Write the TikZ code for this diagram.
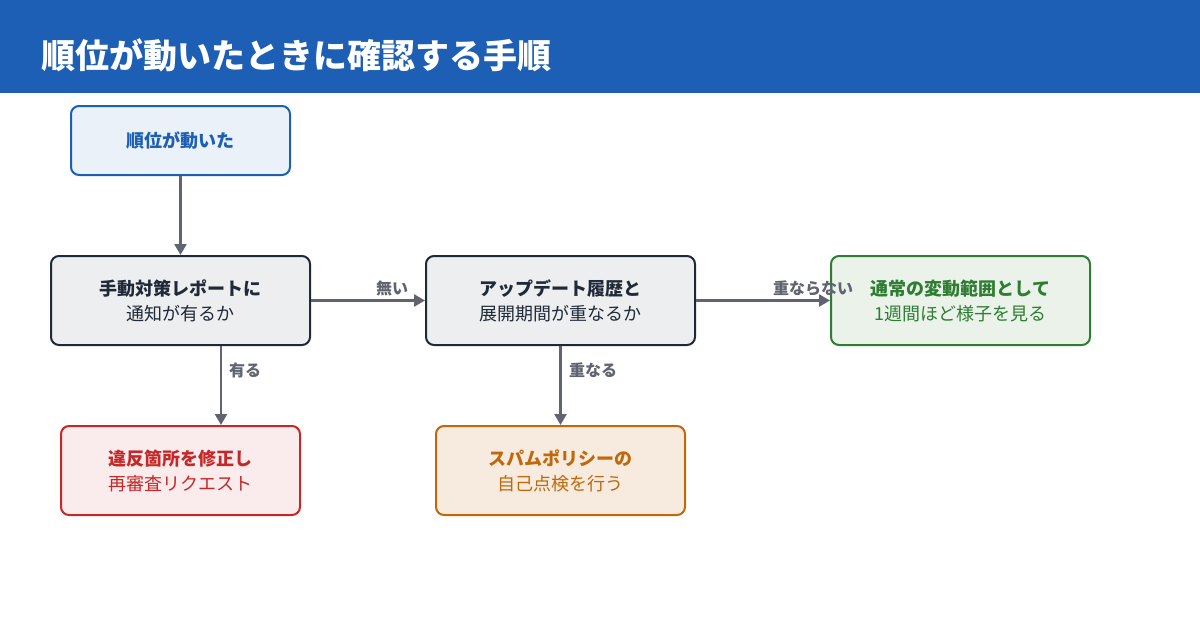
\documentclass[tikz,border=0pt]{standalone}
\usepackage{fontspec}
\setmainfont{Noto Sans CJK JP}
\usetikzlibrary{arrows.meta}
\definecolor{hdr}{HTML}{1C5FB4}
\definecolor{arr}{HTML}{5F6470}
\definecolor{dk}{HTML}{1F2937}
\definecolor{gn}{HTML}{2E7D32}
\definecolor{rd}{HTML}{C62828}
\definecolor{og}{HTML}{C0680A}
\begin{document}
\begin{tikzpicture}[x=1pt,y=-1pt,
  box/.style={rounded corners=8pt,line width=2pt,align=center,font=\fontsize{18}{25}\selectfont},
  con/.style={draw=arr,line width=2.5pt,-{Triangle[length=11pt,width=12pt]}},
  lab/.style={text=arr,font=\fontsize{16}{18}\selectfont\bfseries}]
\useasboundingbox (0,0) rectangle (1200,630);
\fill[hdr] (0,0) rectangle (1200,93);
\node[anchor=west,text=white,font=\fontsize{34}{40}\selectfont\bfseries] (title) at (38,55) {順位が動いたときに確認する手順};
\node[box,draw=hdr,fill=hdr!9,text=hdr,minimum width=219pt,minimum height=69pt] (a) at (180.5,140.5) {\bfseries 順位が動いた};
\node[box,draw=dk,fill=dk!8,text=dk,minimum width=259pt,minimum height=89pt] (b) at (180.5,300.5) {\bfseries 手動対策レポートに\\通知が有るか};
\node[box,draw=dk,fill=dk!8,text=dk,minimum width=269pt,minimum height=89pt] (c) at (560.5,300.5) {\bfseries アップデート履歴と\\展開期間が重なるか};
\node[box,draw=gn,fill=gn!10,text=gn,minimum width=259pt,minimum height=89pt] (d) at (960.5,300.5) {\bfseries 通常の変動範囲として\\1週間ほど様子を見る};
\node[box,draw=rd,fill=rd!9,text=rd,minimum width=239pt,minimum height=89pt] (e) at (180.5,470.5) {\bfseries 違反箇所を修正し\\再審査リクエスト};
\node[box,draw=og,fill=og!13,text=og,minimum width=249pt,minimum height=89pt] (f) at (560.5,470.5) {\bfseries スパムポリシーの\\自己点検を行う};
\draw[con] (a) -- (b);
\draw[con] (b) -- (c);
\draw[con] (c) -- (d);
\draw[con] (b.south -| 221,0) -- (e.north -| 221,0);
\draw[con] (c.south) -- (f.north);
\node[lab] (l1) at (392,288) {無い};
\node[lab] (l2) at (813,288) {重ならない};
\node[lab] (l3) at (245,370) {有る};
\node[lab] (l4) at (593,370) {重なる};
\end{tikzpicture}
\end{document}
